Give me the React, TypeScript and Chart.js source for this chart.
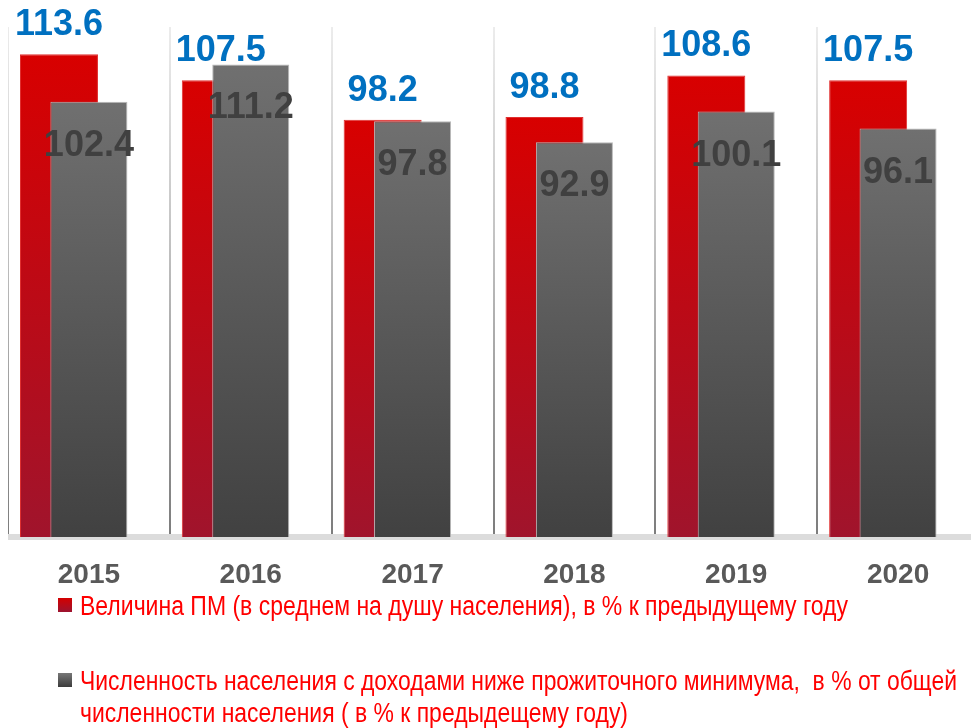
import React, { useEffect, useRef } from "react";
import { Chart, registerables } from "chart.js";

Chart.register(...registerables);

const years = ["2015", "2016", "2017", "2018", "2019", "2020"];
const pmValues = [113.6, 107.5, 98.2, 98.8, 108.6, 107.5];
const povertyValues = [102.4, 111.2, 97.8, 92.9, 100.1, 96.1];
const legendLine1 = "Величина ПМ (в среднем на душу населения), в % к предыдущему году";
const legendLine2 = "Численность населения с доходами ниже прожиточного минимума,  в % от общей";
const legendLine3 = "численности населения ( в % к предыдещему году)";

const FONT = "'Liberation Sans', Arial, sans-serif";
const RED_SHIFT = -0.185;

function barGradient(ctx: any, top: string, bottom: string) {
  const chart = ctx.chart;
  const area = chart.chartArea;
  if (!area || ctx.raw == null) return top;
  const yScale = chart.scales.y;
  const v = typeof ctx.raw === "object" ? ctx.raw.y : ctx.raw;
  const yTop = yScale.getPixelForValue(v);
  const g = chart.ctx.createLinearGradient(0, yTop, 0, area.bottom);
  g.addColorStop(0, top);
  g.addColorStop(1, bottom);
  return g;
}

const labelsPlugin = {
  id: "valueLabels",
  afterDatasetsDraw(chart: any) {
    const c = chart.ctx;
    c.save();
    c.textAlign = "center";
    c.textBaseline = "alphabetic";
    chart.data.datasets.forEach((ds: any, di: number) => {
      const meta = chart.getDatasetMeta(di);
      meta.data.forEach((el: any, i: number) => {
        const raw = ds.data[i];
        const v = typeof raw === "object" ? raw.y : raw;
        c.font = `bold 36px ${FONT}`;
        if (ds.label === "pm") {
          c.fillStyle = "#0070c0";
          c.fillText(v.toFixed(1), el.x, el.y - 19);
        } else {
          c.fillStyle = "#404040";
          c.fillText(v.toFixed(1), el.x, el.y + 54);
        }
      });
    });
    c.restore();
  },
};

function fitText(c: CanvasRenderingContext2D, text: string, x: number, y: number, width: number) {
  const natural = c.measureText(text).width;
  c.save();
  c.translate(x, y);
  c.scale(width / natural, 1);
  c.fillText(text, 0, 0);
  c.restore();
}

const legendPlugin = {
  id: "customLegend",
  afterDraw(chart: any) {
    const c = chart.ctx;
    const base = chart.chartArea.bottom;
    c.save();
    const marker = (y: number, top: string, bottom: string) => {
      const g = c.createLinearGradient(0, y, 0, y + 14);
      g.addColorStop(0, top);
      g.addColorStop(1, bottom);
      c.fillStyle = g;
      c.fillRect(50, y, 14, 14);
    };
    marker(base + 61, "#d40000", "#9c1430");
    marker(base + 136, "#777777", "#3c3c3c");
    c.fillStyle = "#ff0000";
    c.font = `27px ${FONT}`;
    c.textBaseline = "alphabetic";
    c.textAlign = "left";
    fitText(c, legendLine1, 72, base + 78, 768);
    fitText(c, legendLine2, 72, base + 153, 877);
    fitText(c, legendLine3, 72, base + 185, 548);
    c.restore();
  },
};

export default function App() {
  const ref = useRef<HTMLCanvasElement>(null);
  useEffect(() => {
    if (!ref.current) return;
    const chart = new Chart(ref.current, {
      type: "bar",
      data: {
        labels: years,
        datasets: [
          {
            label: "poverty",
            data: povertyValues,
            xAxisID: "x",
            order: 1,
            grouped: false,
            backgroundColor: (ctx: any) => barGradient(ctx, "#707070", "#414141"),
            borderColor: "#b8b8b8",
            borderWidth: { top: 1, left: 1, right: 1, bottom: 0 },
            categoryPercentage: 1,
            barPercentage: 0.476,
          },
          {
            label: "pm",
            data: pmValues.map((v, i) => ({ x: i + RED_SHIFT, y: v })),
            xAxisID: "xr",
            order: 2,
            grouped: false,
            backgroundColor: (ctx: any) => barGradient(ctx, "#d80000", "#a0142c"),
            borderColor: "#e03030",
            borderWidth: { top: 1, left: 1, right: 1, bottom: 0 },
            categoryPercentage: 1,
            barPercentage: 0.482,
          },
        ] as any,
      },
      options: {
        animation: false,
        responsive: false,
        layout: { padding: { top: 19, left: 0, right: 0, bottom: 131 } },
        plugins: { legend: { display: false }, tooltip: { enabled: false } },
        scales: {
          x: {
            type: "category",
            offset: true,
            grid: {
              offset: true,
              drawTicks: false,
              lineWidth: 2,
              color: (ctx: any) => {
                const chart = ctx.chart;
                const area = chart.chartArea;
                if (!area) return "#bbbbbb";
                const g = chart.ctx.createLinearGradient(0, area.top, 0, area.bottom);
                g.addColorStop(0, "#ececec");
                g.addColorStop(0.4, "#c4c4c4");
                g.addColorStop(1, "#7c7c7c");
                return g;
              },
            },
            border: { display: true, color: "#dcdcdc", width: 6 },
            ticks: {
              color: "#595959",
              font: { family: FONT, size: 28, weight: "bold" },
              padding: 21,
              maxRotation: 0,
            },
            afterFit(scale: any) {
              scale.height = 60;
            },
          },
          xr: {
            type: "linear",
            display: false,
            min: -0.5,
            max: 5.5,
            offset: false,
            afterBuildTicks(scale: any) {
              scale.ticks = [{ value: scale.min }, { value: scale.max }];
            },
          },
          y: {
            display: false,
            min: 0,
            max: 120,
          },
        } as any,
      },
      plugins: [labelsPlugin, legendPlugin],
    });
    return () => chart.destroy();
  }, []);

  return (
    <div
      style={{
        position: "fixed",
        left: 8,
        top: 8,
        right: 0,
        bottom: 0,
        overflow: "hidden",
        background: "#ffffff",
      }}
    >
      <canvas ref={ref} width={971} height={720} style={{ display: "block", width: 971, height: 720 }} />
    </div>
  );
}
